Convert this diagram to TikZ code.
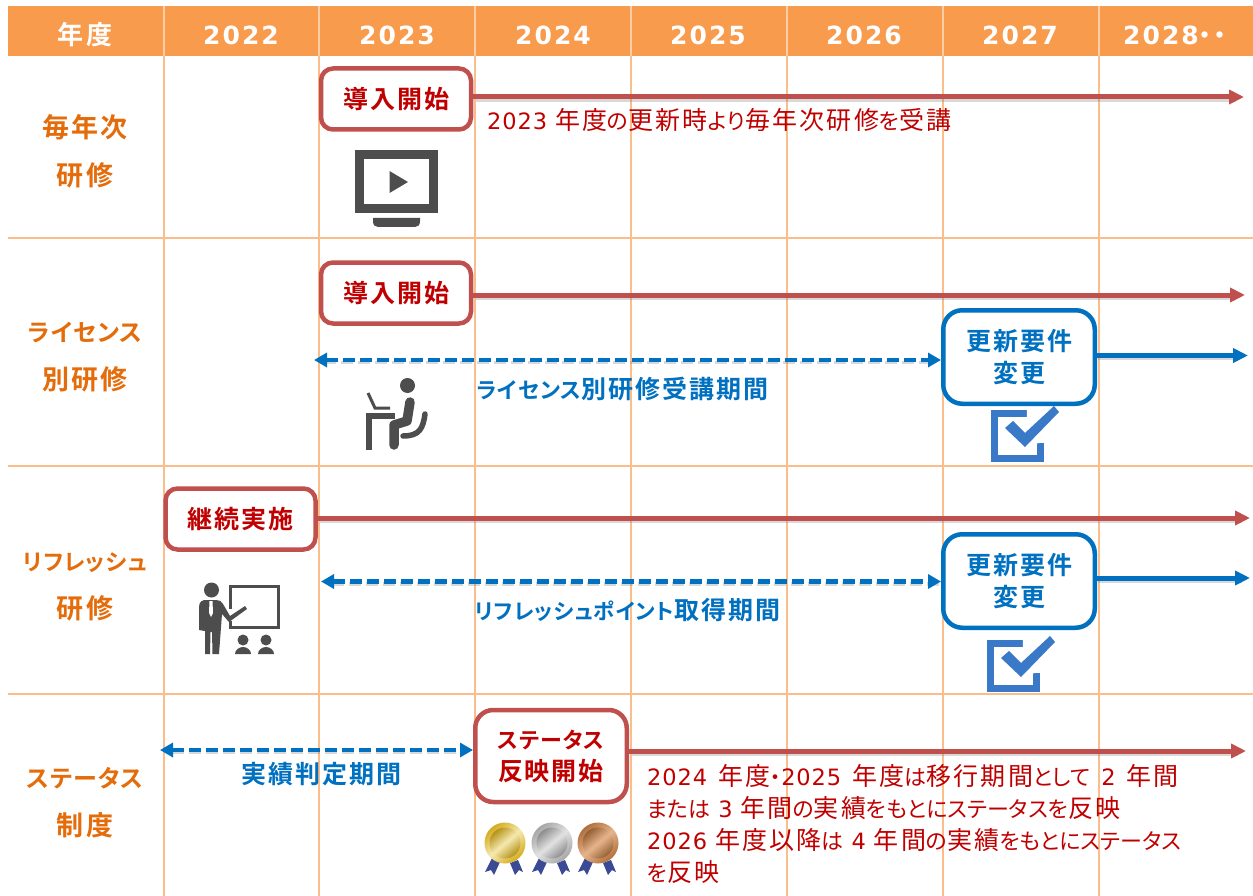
\documentclass[tikz,border=0pt]{standalone}
\usepackage{fontspec}
\setmainfont{Noto Sans CJK JP}
\newfontfamily\jpb[LetterSpace=8,RawFeature={+palt}]{Noto Sans CJK JP Bold}
\newfontfamily\jpbk[LetterSpace=4,RawFeature={+palt}]{Noto Sans CJK JP Bold}
\newfontfamily\jpr[LetterSpace=9,RawFeature={+palt}]{Noto Sans CJK JP}
\newfontfamily\jprk[LetterSpace=0,RawFeature={+palt}]{Noto Sans CJK JP}
\newfontfamily\latb[LetterSpace=8]{DejaVu Sans Bold}
\newfontfamily\latr[LetterSpace=4]{DejaVu Sans}
\newcommand{\yr}[1]{{\latr\fontsize{22.5}{32}\selectfont #1}}
\newcommand{\kr}[1]{{\jprk\fontsize{22}{32}\selectfont #1}}
\newcommand{\kb}[1]{{\jpbk\fontsize{22}{32}\selectfont #1}}
\newcommand{\ks}[1]{{\jpbk\fontsize{21.5}{32}\selectfont #1}}
\newcommand{\kl}[1]{{\jpbk\fontsize{24}{48}\selectfont #1}}
\newcommand{\km}[1]{{\jpbk\fontsize{22.5}{48}\selectfont #1}}
\definecolor{hdr}{HTML}{F99B4D}
\definecolor{grid}{HTML}{FBBE8B}
\definecolor{rowt}{HTML}{E46C0A}
\definecolor{redl}{HTML}{C0504D}
\definecolor{redt}{HTML}{C00000}
\definecolor{bluel}{HTML}{0070C0}
\definecolor{icon}{HTML}{4D4D4D}
\definecolor{chk}{HTML}{3A78C8}
\definecolor{ribb}{HTML}{3B4A94}
\definecolor{golde}{HTML}{D4AC1E}
\definecolor{goldl}{HTML}{F6E9B0}
\definecolor{silve}{HTML}{A6A6A6}
\definecolor{silvl}{HTML}{E2E2E2}
\definecolor{brone}{HTML}{B0703C}
\definecolor{bronl}{HTML}{E6B48C}
\usetikzlibrary{arrows.meta}
\tikzset{
 x=1pt,y=-1pt,
 hcell/.style={text=white,font=\latb\fontsize{25}{25}\selectfont,anchor=center,inner sep=0},
 rowlab/.style={text=rowt,font=\jpb\fontsize{27}{48}\selectfont,align=center,inner sep=0},
 redbox/.style={draw=redl,line width=4.5pt,rounded corners=12pt,fill=white,minimum width=150pt,minimum height=61pt,inner sep=0,text=redt,font=\jpb\fontsize{25}{32}\selectfont,align=center},
 bluebox/.style={draw=bluel,line width=4.5pt,rounded corners=19pt,fill=white,minimum width=151.5pt,minimum height=93.5pt,inner sep=0,text=bluel,font=\jpb\fontsize{25}{32}\selectfont,align=center},
 redarrow/.style={draw=redl,line width=5pt,-{Triangle[length=15pt,width=14pt]}},
 bluearrow/.style={draw=bluel,line width=5pt,-{Triangle[length=15pt,width=14pt]}},
 dasharrow/.style={draw=bluel,line width=4.2pt,dash pattern=on 12pt off 5pt,{Triangle[length=13pt,width=14pt]}-{Triangle[length=13pt,width=14pt]}},
 shadowline/.style={draw=black!55,opacity=.28,line width=4.5pt,shift={(1.5pt,-2.5pt)}},
 redtxt/.style={text=redt,font=\jpr\fontsize{25}{32}\selectfont,inner sep=0,anchor=west,align=left},
 bluetxt/.style={text=bluel,font=\jpb\fontsize{25}{28}\selectfont,inner sep=0},
}
\newcommand{\medal}[4]{% cx cy edge light
 \begin{scope}[shift={(#1pt,-#2pt)}]
 \fill[ribb] (-13,15) -- (-5,19) -- (-11,32) -- (-14,27) -- (-20,29) -- cycle;
 \fill[ribb] (13,17) -- (5,20) -- (10,32) -- (14,27) -- (18,29) -- cycle;
 \shade[left color=#3,right color=#3,middle color=#4,shading angle=40] (0,0) circle (20.5);
 \shade[left color=#3!85!black,right color=#3!85!black,middle color=#4,shading angle=220] (0,0) circle (15.5);
 \end{scope}
}
\begin{document}
\begin{tikzpicture}
\useasboundingbox (0,0) rectangle (1253,896);
\fill[white] (0,0) rectangle (1253,896);
% header
\fill[hdr] (8,6) rectangle (1253,56);
% grid
\foreach \gx in {164,319,475,631,787,943,1099}{
  \draw[grid,line width=1.8pt] (\gx,56) -- (\gx,896);
  \draw[white!50!hdr,line width=1.5pt] (\gx,6) -- (\gx,56);
}
\foreach \gy in {238,466,694}{
  \draw[grid,line width=1.8pt] (8,\gy) -- (1253,\gy);
}
% header labels
\node[hcell,font=\jpb\fontsize{26}{26}\selectfont] (h0) at (85,35) {年度};
\node[hcell] (h1) at (241,35.5) {2022};
\node[hcell] (h2) at (397,35.5) {2023};
\node[hcell] (h3) at (553,35.5) {2024};
\node[hcell] (h4) at (708,35.5) {2025};
\node[hcell] (h5) at (864,35.5) {2026};
\node[hcell] (h6) at (1020,35.5) {2027};
\node[hcell] (h7) at (1174.5,35.5) {2028{\jpb ・・}};
% row labels
\node[rowlab] (r1) at (85,151.5) {毎年次\\研修};
\node[rowlab] (r2) at (85,357.5) {\kl{ライセンス}\\別研修};
\node[rowlab] (r3) at (85,587) {\km{リフレッシュ}\\研修};
\node[rowlab] (r4) at (85,802.5) {\kl{ステータス}\\制度};
% free ends
\coordinate (e1) at (1244,97);
\coordinate (e2) at (1245,295);
\coordinate (e2b) at (1248,355.5);
\coordinate (e3) at (1250,518);
\coordinate (e3b) at (1250,578);
\coordinate (e4) at (1246,751);
\coordinate (d2) at (314,360);
\coordinate (d3) at (321,581.5);
\coordinate (d4) at (160,750);
% shadows
\draw[shadowline] (474,97) -- (1234,97);
\draw[shadowline] (474,295) -- (1234,295);
\draw[shadowline] (318,518) -- (1240,518);
\draw[shadowline] (630,751) -- (1236,751);
\draw[shadowline] (1096,355.5) -- (1238,355.5);
\draw[shadowline] (1096,578) -- (1240,578);
\draw[shadowline,line width=3.6pt,dash pattern=on 12pt off 5pt] (322,360) -- (932,360);
\draw[shadowline,line width=3.6pt,dash pattern=on 12pt off 5pt] (330,581.5) -- (938,581.5);
\draw[shadowline,line width=3.6pt,dash pattern=on 12pt off 5pt] (170,750) -- (462,750);
% boxes
\node[redbox] (b1) at (396,99) {導入開始};
\node[redbox] (b2) at (396,293) {導入開始};
\node[redbox] (b3) at (240.5,519) {継続実施};
\node[redbox,minimum width=151.5pt,minimum height=92pt,rounded corners=18pt] (b4) at (551,756) {\kb{ステータス}\\反映開始};
% check icons
\foreach \ox/\oy in {0/0,-4/230}{
 \begin{scope}[shift={(\ox pt,-\oy pt)}]
  \draw[chk,line width=7pt] (1027,413.5) -- (994.5,413.5) -- (994.5,458.5) -- (1040,458.5) -- (1040,443);
  \fill[white] (1027,408) -- (1060,408) -- (1060,440) -- (1026,445) -- cycle;
  \fill[chk] (1005,428) -- (1013,421) -- (1025,433) -- (1054,406) -- (1059,412) -- (1025,447) -- cycle;
 \end{scope}
}
\node[bluebox] (c2) at (1019,357) {更新要件\\変更};
\node[bluebox] (c3) at (1019,581) {更新要件\\変更};
% connectors
\draw[redarrow] (b1.east |- e1) -- (e1);
\draw[redarrow] (b2.east |- e2) -- (e2);
\draw[redarrow] (b3.east |- e3) -- (e3);
\draw[redarrow] (b4.east |- e4) -- (e4);
\draw[bluearrow] (c2.east |- e2b) -- (e2b);
\draw[bluearrow] (c3.east |- e3b) -- (e3b);
\draw[dasharrow] (d2) -- (c2.west |- d2);
\draw[dasharrow] (d3) -- (c3.west |- d3);
\draw[dasharrow] (d4) -- (b4.west |- d4);
% texts
\node[redtxt] (t1) at (487,120.5) {\yr{2023} 年度\kr{の}更新時\kr{より}毎年次研修\kr{を}受講};
\node[bluetxt] (t2) at (622.5,389) {\kb{ライセンス}別研修受講期間};
\node[bluetxt] (t3) at (627.5,610) {\ks{リフレッシュポイント}取得期間};
\node[bluetxt] (t4) at (321,774) {実績判定期間};
\node[redtxt,anchor=north west] (t5) at (647,764) {\yr{2024}\hspace{3pt} 年度\kr{・}\yr{2025}\hspace{3pt} 年度\kr{は}移行期間\kr{として}\hspace{3pt} \yr{2}\hspace{3pt} 年間\\\kr{または} \yr{3} 年間\kr{の}実績\kr{をもとにステータスを}反映\\\yr{2026} 年度以降\kr{は} \yr{4} 年間\kr{の}実績\kr{をもとにステータス}\\\kr{を}反映};
% monitor icon
\fill[icon] (355,150.5) rectangle (438,213);
\fill[white] (363.5,159.5) rectangle (429,204);
\fill[icon] (389.5,171) -- (408,182) -- (389.5,193) -- cycle;
\fill[icon] (373,218) -- (420,218) -- (420,221) .. controls (420,225) and (418,227) .. (415,227) -- (378,227) .. controls (375,227) and (373,225) .. (373,221) -- cycle;
% seated person icon
\fill[icon] (407.5,385.5) circle (7.5);
\fill[icon] (366,412.5) rectangle (372,450);
\fill[icon] (366,412.5) rectangle (395,419);
\draw[icon,line width=3pt] (368,393) -- (375,408) -- (390,408);
\draw[icon,line width=9.5pt,line cap=round,line join=round] (410,402) -- (407,421) -- (394,425) -- (394,445);
\draw[icon,line width=5.5pt,line cap=round] (425,414) .. controls (423,428) and (420,436) .. (403,436);
% teacher icon
\fill[icon] (211.5,590) circle (7.5);
\fill[icon] (199,607) .. controls (199,601) and (203,600) .. (206,600) -- (216,600) .. controls (219,600) and (222,601) .. (223,604) -- (230,616) -- (245,606) -- (247,609) -- (229,622) -- (222,614) -- (219,654) -- (212.5,654) -- (212,632) -- (210.5,632) -- (210,654) -- (205,654) -- (205,631) -- (199,630) -- cycle;
\fill[white] (209.5,601) -- (212.5,601) -- (213,613) -- (211,617) -- (209,613) -- cycle;
\draw[icon,line width=3pt] (230.5,609) -- (230.5,586.5) -- (278.5,586.5) -- (278.5,627.5) -- (230.5,627.5) -- (230.5,621);
\foreach \px in {243,266}{
  \fill[icon] (\px,640) circle (5.5);
  \fill[icon] (\px-8,654) .. controls (\px-8,650) and (\px-4,647) .. (\px,647) .. controls (\px+4,647) and (\px+8,650) .. (\px+8,654) -- cycle;
}
% medals
\medal{505}{843}{golde}{goldl}
\medal{552}{843}{silve}{silvl}
\medal{598}{843}{brone}{bronl}
\end{tikzpicture}
\end{document}
